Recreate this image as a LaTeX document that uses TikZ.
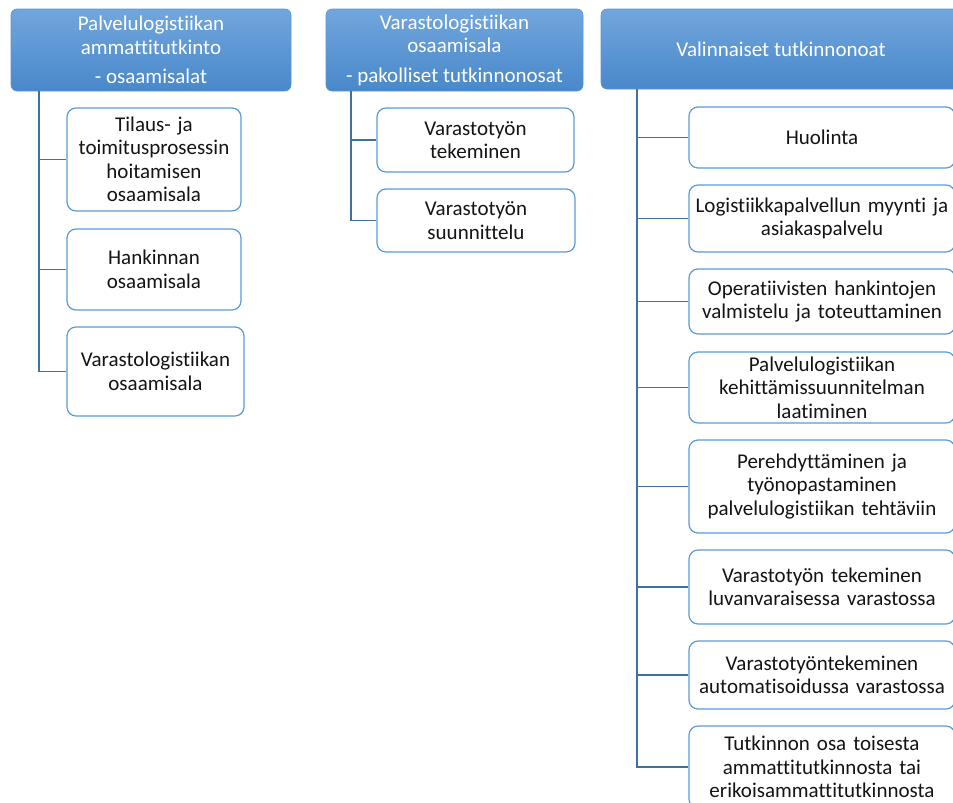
\documentclass[tikz,border=0pt]{standalone}
\usepackage{fontspec}
\setmainfont{Carlito}[Ligatures={NoCommon,NoContextual,NoRare},RawFeature={-liga;-clig;-dlig;-calt}]
\usetikzlibrary{calc}
\definecolor{hdrTop}{RGB}{114,166,221}
\definecolor{hdrBot}{RGB}{72,136,202}
\definecolor{hdrEdge}{RGB}{92,150,210}
\definecolor{boxEdge}{RGB}{91,155,213}
\definecolor{connCol}{RGB}{65,113,156}
\definecolor{txt}{RGB}{20,20,20}
\tikzset{
  every node/.style={font=\fontsize{21}{23.5}\selectfont},
  hdr/.style={rounded corners=6pt, top color=hdrTop, bottom color=hdrBot, draw=hdrEdge, line width=0.6pt, text=white, align=center, inner sep=0pt},
  cbox/.style={rounded corners=9pt, draw=boxEdge, line width=1.2pt, fill=white, align=center, inner sep=0pt, text=txt},
  conn/.style={draw=connCol, line width=1.9pt}
}
\begin{document}
\begin{tikzpicture}[x=1pt,y=-1pt]
\useasboundingbox (0,0) rectangle (953,803);
\clip (0,0) rectangle (953,803);
% headers
\node[hdr, minimum width=280, minimum height=82] (h1) at (151,50) {Palvelulogistiikan\\ammattitutkinto\\[6pt]- osaamisalat};
\node[hdr, minimum width=257, minimum height=82] (h2) at (454.5,50) {Varastologistiikan\\osaamisala\\[6pt]- pakolliset tutkinnonosat};
\node[hdr, minimum width=360, minimum height=80] (h3) at (781,49) {Valinnaiset tutkinnonoat};
% trunk tops
\coordinate (t1) at ($(h1.south west)+(28,0)$);
\coordinate (t2) at ($(h2.south west)+(25,0)$);
\coordinate (t3) at ($(h3.south west)+(36,0)$);
% left column
\node[cbox, minimum width=174, minimum height=103, text width=170] (l1) at (154,159.5) {Tilaus- ja\\toimitusprosessin\\hoitamisen\\osaamisala};
\node[cbox, minimum width=174, minimum height=81, text width=170] (l2) at (154,269.5) {Hankinnan\\osaamisala};
\node[cbox, minimum width=177, minimum height=89, text width=173] (l3) at (155.5,371.5) {Varastologistiikan\\osaamisala};
% middle column
\node[cbox, minimum width=197, minimum height=64, text width=193] (m1) at (475.5,140) {Varastotyön\\tekeminen};
\node[cbox, minimum width=198, minimum height=63, text width=194] (m2) at (476,220.5) {Varastotyön\\suunnittelu};
% right column
\node[cbox, minimum width=266, minimum height=61, text width=262] (r1) at (822,137.5) {Huolinta};
\node[cbox, minimum width=266, minimum height=67, text width=262] (r2) at (822,218.5) {Logistiikkapalvellun myynti ja\\asiakaspalvelu};
\node[cbox, minimum width=266, minimum height=65, text width=262] (r3) at (822,301.5) {Operatiivisten hankintojen\\valmistelu ja toteuttaminen};
\node[cbox, minimum width=266, minimum height=71, text width=262] (r4) at (822,387.5) {Palvelulogistiikan\\kehittämissuunnitelman\\laatiminen};
\node[cbox, minimum width=266, minimum height=93, text width=262] (r5) at (822,486.5) {Perehdyttäminen ja\\työnopastaminen\\palvelulogistiikan tehtäviin};
\node[cbox, minimum width=266, minimum height=74, text width=262] (r6) at (822,587) {Varastotyön tekeminen\\luvanvaraisessa varastossa};
\node[cbox, minimum width=266, minimum height=68, text width=262] (r7) at (822,675) {Varastotyöntekeminen\\automatisoidussa varastossa};
\node[cbox, minimum width=266, minimum height=82, text width=262] (r8) at (822,767) {Tutkinnon osa toisesta\\ammattitutkinnosta tai\\erikoisammattitutkinnosta};
% connectors
\foreach \c in {l1,l2,l3} \draw[conn] (t1) |- (\c.west);
\foreach \c in {m1,m2} \draw[conn] (t2) |- (\c.west);
\foreach \c in {r1,r2,r3,r4,r5,r6,r7,r8} \draw[conn] (t3) |- (\c.west);
\end{tikzpicture}
\end{document}
